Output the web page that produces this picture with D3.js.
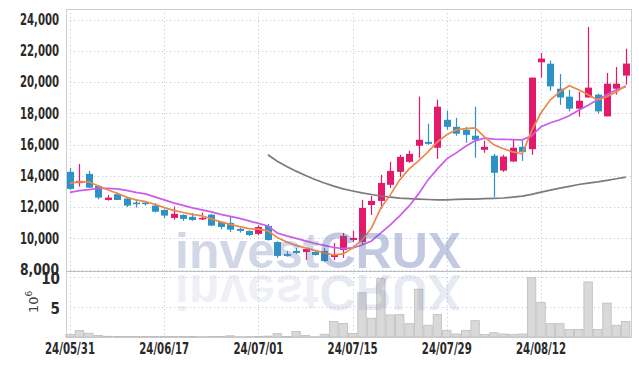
<!DOCTYPE html>
<html>
<head>
<meta charset="utf-8">
<script src="https://cdn.jsdelivr.net/npm/d3@7"></script>
<style>
  body { margin: 0; background: #fff; }
  svg { display: block; }
  .tick-lbl { font-family: "Liberation Sans Narrow", "DejaVu Sans Condensed", sans-serif; font-weight: bold; fill: #2a2a2a; }
</style>
</head>
<body>
<div id="chart"></div>
<script>
// trading days
const DATES = ["24/05/31","24/06/03","24/06/04","24/06/05","24/06/07","24/06/10","24/06/11","24/06/12","24/06/13","24/06/14",
               "24/06/17","24/06/18","24/06/19","24/06/20","24/06/21","24/06/24","24/06/25","24/06/26","24/06/27","24/06/28",
               "24/07/01","24/07/02","24/07/03","24/07/04","24/07/05","24/07/08","24/07/09","24/07/10","24/07/11","24/07/12",
               "24/07/15","24/07/16","24/07/17","24/07/18","24/07/19","24/07/22","24/07/23","24/07/24","24/07/25","24/07/26",
               "24/07/29","24/07/30","24/07/31","24/08/01","24/08/02","24/08/05","24/08/06","24/08/07","24/08/08","24/08/09",
               "24/08/12","24/08/13","24/08/14","24/08/16","24/08/19","24/08/20","24/08/21","24/08/22","24/08/23","24/08/26"];
const OPEN  = [14250,13530,14120,13350,12450,12820,12540,12280,12280,12090, 11810,11300,11490,11370,11240,11510,11050,10980,10600,10470,
               10280,10790, 9760, 8990, 9190, 9120, 9120, 9190, 8800, 9250,  9890, 9760,12130,12390,13420,14250,14890,15920,16170,15790,
               17580,17130,16940,16560,15660,15280,14330,14910,15850,15700, 21260,21170,19570,19060,18290,19010,19190,17800,19570,20410];
const HIGH  = [14500,14760,14310,13420,12780,12920,12600,12500,12350,12240, 11850,12030,11530,11620,11640,11560,11080,11380,10650,10500,
               10830,10920, 9800, 9190, 9380, 9380, 9250, 9380, 9700,10340, 10470,12460,12710,14060,14890,15340,15600,19060,17330,18870,
               18160,17710,17130,18420,16240,15400,15340,16300,16300,20280, 21860,21370,20510,19500,19360,23530,19250,20580,20960,22130];
const LOW   = [13100,13310,13220,12500,12410,12450,12000,11960,12100,11650, 11280,11190,11110,11120,11170,10780,10580,10400,10360,10150,
               10190, 9850, 8750, 8830, 8990, 8610, 8900, 8480, 8610, 8740,  9760, 9630,11490,11880,13220,13930,14830,15150,15980,15080,
               16940,16560,16110,15150,15470,12650,14250,14890,14950,15340, 20280,19440,18540,18120,17780,19010,17990,17800,19190,19830];
const CLOSE = [13160,13670,13240,12600,12600,12450,12090,12180,12200,11700, 11450,11560,11240,11170,11300,10810,10720,10550,10470,10210,
               10720, 9890, 8870, 8870, 9060, 9310, 8930, 8540, 8930,10150, 10020,11940,12390,13540,14310,15210,15400,16300,16040,18420,
               17130,16690,16620,16300,15850,14190,15230,15790,15530,20280, 21500,19720,19010,18290,18800,19640,18120,19890,19890,21180];
// moving averages
const MA5   = [13525,13610,13610,13350,13100,12885,12630,12455,12345,12180, 11960,11780,11650,11525,11430,11240,11045,10885,10745,10615,
               10580,10470,10050, 9765, 9540, 9380, 9220, 9060, 8930, 8995,  9380, 9890,10660,11940,12775,13735,14440,14955,15530,16170,
               16620,16940,17010,17070,16490,15980,15725,15530,15400,16875, 18030,18865,19380,19760,19505,19185,18865,19060,19380,19760];
const MA20  = [12935,13050,13115,13190,13190,13160,13065,12935,12840,12645, 12455,12265,12100,11940,11815,11685,11525,11400,11270,11110,
               10950,10790,10340,10150, 9990, 9830, 9665, 9540, 9410, 9335,  9380, 9570, 9825,10340,10850,11430,12070,12840,13735,14440,
               15080,15465,15885,16235,16410,16345,16330,16315,16300,16560, 17135,17390,17585,17840,18190,18510,18865,19185,19505,19700];
const MA60  = [null,null,null,null,null,null,null,null,null,null, null,null,null,null,null,null,null,null,null,null,
               null,15340,14930,14595,14295,14020,13760,13540,13335,13160, 13025,12900,12800,12705,12635,12565,12530,12500,12480,12460,
               12455,12485,12500,12510,12530,12550,12575,12630,12700,12810, 12955,13085,13205,13320,13440,13530,13610,13705,13810,13910];
// volume, x 10^6
const VOLUME = [0.40,1.05,0.62,0.24,0.12,0.10,0.10,0.08,0.08,0.10, 0.12,0.10,0.08,0.08,0.06,0.10,0.08,0.20,0.05,0.06,
                0.08,0.15,0.55,0.10,0.90,0.25,0.05,0.45,2.55,2.25, 0.60,7.30,3.10,9.65,3.65,3.70,2.20,7.90,1.95,3.70,
                1.10,0.50,1.10,2.70,0.40,0.70,0.50,0.40,0.50,9.80, 5.70,2.20,2.20,1.25,1.25,9.10,1.25,5.60,1.95,2.55];
const PRICE_TICKS = [8000,10000,12000,14000,16000,18000,20000,22000,24000];
const VOL_TICKS = [5,10];
const DATE_TICKS = ["24/05/31","24/06/17","24/07/01","24/07/15","24/07/29","24/08/12"];

const W = 639, H = 366;
const PLOT = {left: 66, right: 631, top: 9, priceBottom: 271, volTop: 273, volBottom: 337};
const UP = "#e5196c", DOWN = "#2d92c6";

const svg = d3.select("#chart").append("svg").attr("width", W).attr("height", H);
svg.append("rect").attr("width", W).attr("height", H).attr("fill", "#fff");

const x = d3.scaleLinear().domain([0, DATES.length - 1]).range([70, 625.8]);
const y = d3.scaleLinear().domain([8000, 24000]).range([269.5, 19.5]);
const yv = d3.scaleLinear().domain([0, 10]).range([PLOT.volBottom, 276.5]);

// grid
const grid = svg.append("g").attr("stroke", "#c8cbdd").attr("stroke-dasharray", "1.2,2.8").attr("stroke-width", 1);
grid.selectAll("line.hp").data(PRICE_TICKS).enter().append("line")
    .attr("x1", PLOT.left).attr("x2", PLOT.right)
    .attr("y1", d => Math.round(y(d)) + 0.5).attr("y2", d => Math.round(y(d)) + 0.5);
grid.selectAll("line.hv").data(VOL_TICKS).enter().append("line")
    .attr("x1", PLOT.left).attr("x2", PLOT.right)
    .attr("y1", d => Math.round(yv(d)) + 0.5).attr("y2", d => Math.round(yv(d)) + 0.5);
grid.selectAll("line.v").data(DATE_TICKS).enter().append("line")
    .attr("x1", d => Math.round(x(DATES.indexOf(d))) + 0.5).attr("x2", d => Math.round(x(DATES.indexOf(d))) + 0.5)
    .attr("y1", PLOT.top).attr("y2", PLOT.volBottom);

// frame
const frame = svg.append("g").attr("stroke", "#cfcfcf").attr("fill", "none");
frame.append("rect").attr("x", PLOT.left + 0.5).attr("y", PLOT.top + 0.5)
     .attr("width", PLOT.right - PLOT.left).attr("height", PLOT.volBottom - PLOT.top);
frame.append("line").attr("x1", PLOT.left).attr("x2", PLOT.right)
     .attr("y1", PLOT.priceBottom + 0.5).attr("y2", PLOT.priceBottom + 0.5).attr("stroke", "#bdbdbd");

// volume bars
const bw = (x(1) - x(0));
svg.append("g").selectAll("rect").data(VOLUME).enter().append("rect")
   .attr("x", (d, i) => x(i) - bw / 2 + 0.5)
   .attr("y", d => yv(d))
   .attr("width", bw - 1)
   .attr("height", d => PLOT.volBottom - yv(d))
   .attr("fill", "#d9d9d9").attr("stroke", "#bdbdbd").attr("stroke-width", 0.8);

// candles
const candles = svg.append("g").selectAll("g").data(DATES).enter().append("g")
    .attr("fill", (d, i) => CLOSE[i] >= OPEN[i] ? UP : DOWN)
    .attr("stroke", (d, i) => CLOSE[i] >= OPEN[i] ? UP : DOWN);
candles.append("line")
    .attr("x1", (d, i) => Math.round(x(i)) + 0.5).attr("x2", (d, i) => Math.round(x(i)) + 0.5)
    .attr("y1", (d, i) => y(HIGH[i])).attr("y2", (d, i) => y(LOW[i]))
    .attr("stroke-width", 1.2);
candles.append("rect")
    .attr("x", (d, i) => Math.round(x(i)) - 3)
    .attr("y", (d, i) => y(Math.max(OPEN[i], CLOSE[i])))
    .attr("width", 7)
    .attr("height", (d, i) => Math.max(1.5, Math.abs(y(OPEN[i]) - y(CLOSE[i]))))
    .attr("stroke", "none");

// moving averages
const lineGen = d3.line().defined(d => d != null).x((d, i) => x(i)).y(d => y(d));
[[MA60, "#7b7b7b"], [MA20, "#cc5be9"], [MA5, "#ef874b"]].forEach(([s, c]) => {
    svg.append("path").datum(s).attr("d", lineGen)
       .attr("fill", "none").attr("stroke", c).attr("stroke-width", 1.7);
});

// axis labels
svg.append("g").selectAll("text").data(PRICE_TICKS).enter().append("text")
   .attr("class", "tick-lbl").attr("font-size", 15)
   .attr("x", 59).attr("y", d => y(d)).attr("dy", "0.36em").attr("text-anchor", "end")
   .attr("textLength", 39).attr("lengthAdjust", "spacingAndGlyphs")
   .text(d => d3.format(",")(d));
svg.append("g").selectAll("text").data(VOL_TICKS).enter().append("text")
   .attr("class", "tick-lbl").attr("font-size", 15)
   .attr("x", 60).attr("y", d => yv(d) + 2).attr("dy", "0.36em").attr("text-anchor", "end")
   .text(d => d);
svg.append("g").selectAll("text").data(DATE_TICKS).enter().append("text")
   .attr("class", "tick-lbl").attr("font-size", 15)
   .attr("x", d => x(DATES.indexOf(d))).attr("y", 354).attr("text-anchor", "middle")
   .attr("textLength", 50).attr("lengthAdjust", "spacingAndGlyphs")
   .text(d => d);
const vlab = svg.append("text").attr("transform", "translate(38,313) rotate(-90)")
   .attr("font-family", "DejaVu Sans, sans-serif").attr("font-size", 13).attr("fill", "#444");
vlab.append("tspan").text("10");
vlab.append("tspan").attr("font-size", 9).attr("dy", -6).text("6");

// watermark + reflection
const wm = svg.append("g").attr("font-family", "Liberation Sans, Arial, sans-serif")
    .attr("font-weight", "bold").attr("font-size", 50).attr("pointer-events", "none");
const wmMain = wm.append("text").attr("x", 175).attr("y", 268);
wmMain.append("tspan").attr("fill", "#6a7cb4").attr("fill-opacity", 0.3).text("invest");
wmMain.append("tspan").attr("fill", "#5568a8").attr("fill-opacity", 0.36).text("CRUX");
const wmRef = wm.append("text").attr("x", 175).attr("y", 268)
    .attr("transform", "translate(0,543) scale(1,-1)");
wmRef.append("tspan").attr("fill", "#7a88bc").attr("fill-opacity", 0.15).text("invest");
wmRef.append("tspan").attr("fill", "#6a7ab4").attr("fill-opacity", 0.18).text("CRUX");
</script>
</body>
</html>
